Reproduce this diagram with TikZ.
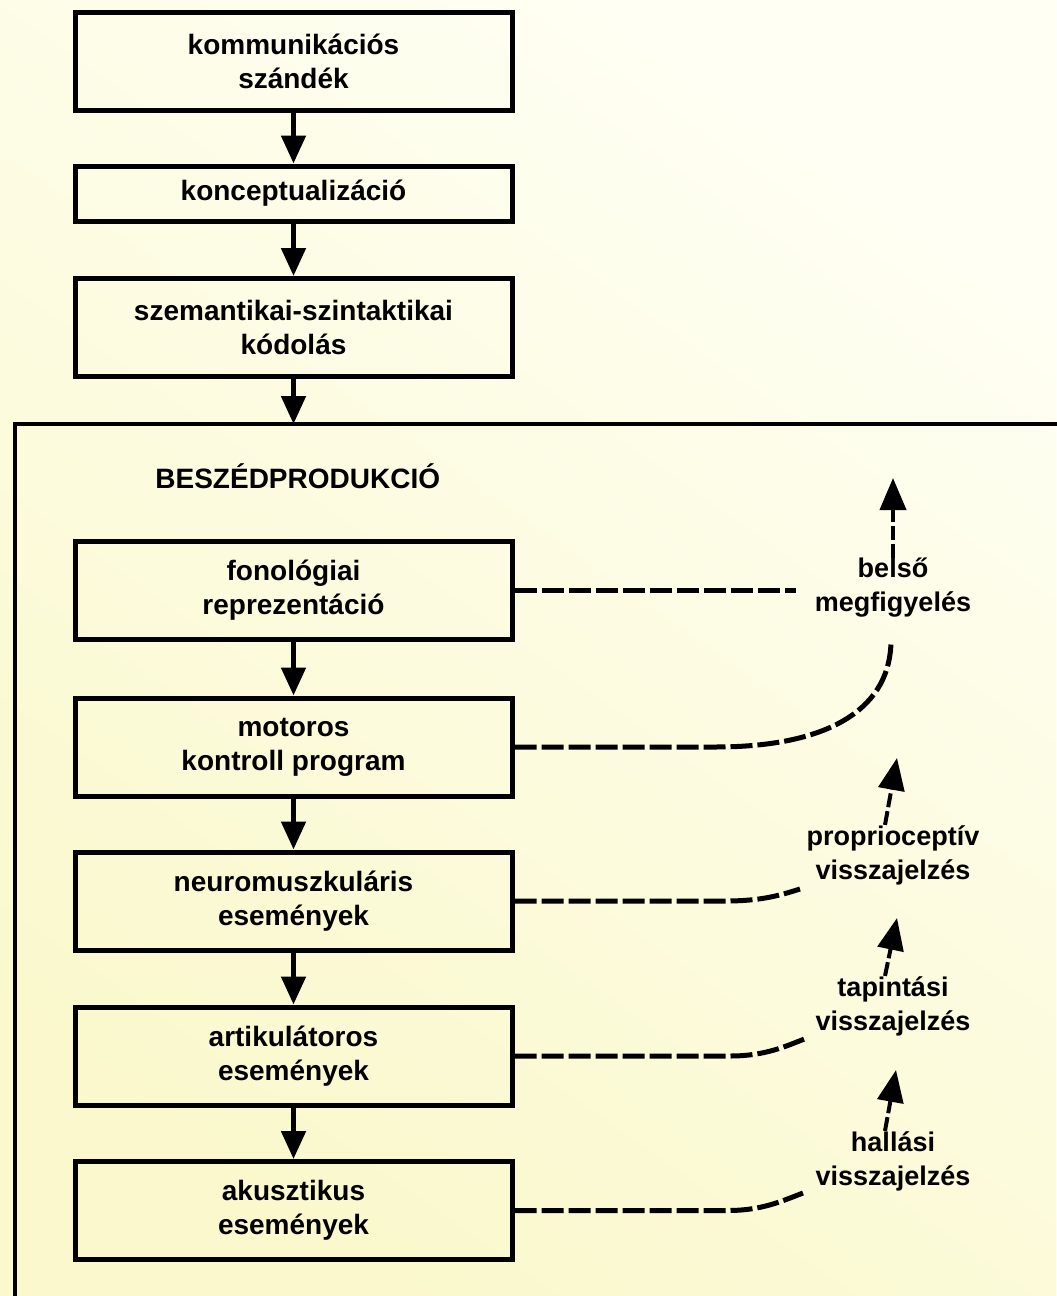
\documentclass[tikz,border=0pt]{standalone}
\usepackage{fontspec}
\setmainfont{Liberation Sans}
\usetikzlibrary{arrows.meta}
\definecolor{bgL}{HTML}{FAF8CC}
\definecolor{bgR}{HTML}{FFFFF4}
\begin{document}
\begin{tikzpicture}[x=0.5pt,y=-0.5pt,
  txt/.style={font=\fontsize{14}{17}\selectfont\bfseries, align=center, inner sep=0pt},
  lab/.style={font=\fontsize{13.5}{17}\selectfont\bfseries, align=center, inner sep=0pt},
  boxst/.style={txt, draw=black, line width=2.5pt, minimum width=218.5pt, minimum height=49pt},
  flow/.style={line width=2.5pt, -{Triangle[length=14pt,width=12pt]}},
  fb/.style={line width=2.5pt, dash pattern=on 11pt off 2.5pt},
  fbarrow/.style={line width=2pt, dash pattern=on 7pt off 2pt, -{Triangle[length=16pt,width=13pt]}},
  frame/.style={line width=2pt}
]
\useasboundingbox (0,0) rectangle (1056,1296);
\shade[shading=axis, top color=bgR, bottom color=bgL, shading angle=-35] (0,0) rectangle (1056,1296);

% top chain
\node[boxst] (b1) at (293.5,61) {kommunikációs\\szándék};
\node[boxst, minimum height=27.5pt] (b2) at (293.5,193.5) {konceptualizáció};
\node[boxst] (b3) at (293.5,327.5) {szemantikai-szintaktikai\\kódolás};

% outer frame
\coordinate (otl) at (15,424);
\coordinate (otop) at (293.5,424);
\coordinate (obl) at (15,1300);
\coordinate (otr) at (1060,424);
\draw[frame] (obl) -- (otl) -- (otr);

\node[txt, anchor=base west] (title) at (155,488) {BESZÉDPRODUKCIÓ};

% inner chain
\node[boxst] (b4) at (293.5,590) {fonológiai\\reprezentáció};
\node[boxst] (b5) at (293.5,747) {motoros\\kontroll program};
\node[boxst] (b6) at (293.5,901) {neuromuszkuláris\\események};
\node[boxst] (b7) at (293.5,1056) {artikulátoros\\események};
\node[boxst] (b8) at (293.5,1210.5) {akusztikus\\események};

\draw[flow] (b1) -- (b2);
\draw[flow] (b2) -- (b3);
\draw[flow] (b3) -- (otop);
\draw[flow] (b4) -- (b5);
\draw[flow] (b5) -- (b6);
\draw[flow] (b6) -- (b7);
\draw[flow] (b7) -- (b8);

% feedback labels
\node[lab] (l1) at (893,588) {belső\\megfigyelés};
\node[lab] (l2) at (893,855) {proprioceptív\\visszajelzés};
\node[lab] (l3) at (893,1006) {tapintási\\visszajelzés};
\node[lab] (l4) at (893,1161) {hallási\\visszajelzés};

% dashed feedback lines
\coordinate (e4) at (796,590);
\coordinate (e5) at (891,640);
\coordinate (e6) at (800,889);
\coordinate (e7) at (807,1038);
\coordinate (e8) at (803,1193);
\draw[fb] (b4.east) -- (e4);
\draw[fb] (b5.east) -- (715,747) .. controls (835,747) and (891,705) .. (e5);
\draw[fb] (b6.east) -- (725,901) .. controls (760,901) and (778,896) .. (e6);
\draw[fb] (b7.east) -- (730,1056) .. controls (766,1056) and (786,1046) .. (e7);
\draw[fb] (b8.east) -- (728,1210.5) .. controls (762,1210.5) and (782,1201) .. (e8);

% upward arrows
\coordinate (t1) at (893,478);
\coordinate (t2) at (897,758);
\coordinate (t3) at (897,918);
\coordinate (t4) at (896,1070);
\draw[fbarrow] (l1.north) -- (t1);
\draw[fbarrow] ([xshift=-4pt]l2.north) -- (t2);
\draw[fbarrow] ([xshift=-4pt]l3.north) -- (t3);
\draw[fbarrow] ([xshift=-4pt]l4.north) -- (t4);
\end{tikzpicture}
\end{document}
